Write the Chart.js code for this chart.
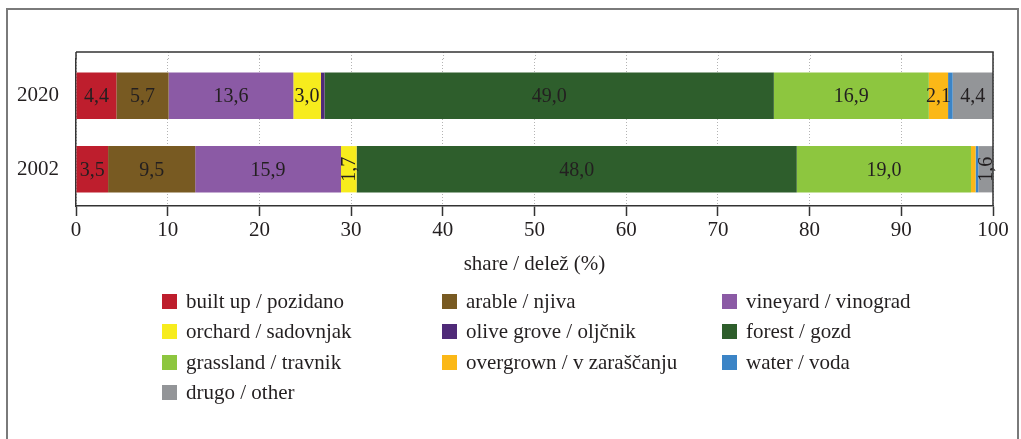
<!DOCTYPE html>
<html>
<head>
<meta charset="utf-8">
<script src="https://cdn.jsdelivr.net/npm/chart.js@4.4.0/dist/chart.umd.min.js"></script>
<style>
    html, body { margin: 0; padding: 0; background: #fff; }
    #wrap { width: 1021px; height: 439px; }
</style>
</head>
<body>
<div id="wrap"><canvas id="myChart" width="1021" height="439"></canvas></div>
<script>
// kategorije (leta)
var years = ["2020", "2002"];

// deleži rabe tal (%)
var builtUp    = [4.4, 3.5];
var arable     = [5.7, 9.5];
var vineyard   = [13.6, 15.9];
var orchard    = [3.0, 1.7];
var oliveGrove = [0.4, 0.0];
var forest     = [49.0, 48.0];
var grassland  = [16.9, 19.0];
var overgrown  = [2.1, 0.5];
var water      = [0.5, 0.3];
var other      = [4.4, 1.6];

var xTicks = [0, 10, 20, 30, 40, 50, 60, 70, 80, 90, 100];

var seriesNames = [
    "built up / pozidano", "arable / njiva", "vineyard / vinograd",
    "orchard / sadovnjak", "olive grove / oljčnik", "forest / gozd",
    "grassland / travnik", "overgrown / v zaraščanju", "water / voda",
    "drugo / other"
];
var seriesData = [builtUp, arable, vineyard, orchard, oliveGrove, forest, grassland, overgrown, water, other];
var seriesColors = ["#be1e2d", "#785a22", "#8b5aa5", "#f7ec1d", "#4f2a78", "#2e5e2c",
                    "#8dc63f", "#fbb817", "#3b84c6", "#939598"];

var FONT = "'Liberation Serif', 'DejaVu Serif', serif";
var TEXT = "#231f20";
var GRID = "#b4b4b4";

var framePlugin = {
    id: "frame",
    beforeDraw: function(chart) {
        var ctx = chart.ctx;
        ctx.save();
        ctx.strokeStyle = "#7a7a7a";
        ctx.lineWidth = 2;
        ctx.strokeRect(7, 9, 1011, 450);
        ctx.restore();
    },
    beforeDatasetsDraw: function(chart) {
        // pikčasta mreža nad območjem grafa do okvirja
        var ctx = chart.ctx, xs = chart.scales.x, top = chart.chartArea.top;
        ctx.save();
        ctx.strokeStyle = GRID;
        ctx.lineWidth = 1;
        ctx.setLineDash([1, 2]);
        xTicks.forEach(function(t) {
            var px = Math.round(xs.getPixelForValue(t)) + 0.5;
            ctx.beginPath();
            ctx.moveTo(px, 52);
            ctx.lineTo(px, top);
            ctx.stroke();
        });
        ctx.restore();
    },
    afterDraw: function(chart) {
        var ctx = chart.ctx, a = chart.chartArea;
        ctx.save();
        ctx.strokeStyle = "#333";
        ctx.lineWidth = 1.5;
        ctx.beginPath();
        ctx.moveTo(a.left, 52);
        ctx.lineTo(a.right, 52);
        ctx.lineTo(a.right, a.bottom);
        ctx.moveTo(a.left, 52);
        ctx.lineTo(a.left, a.top);
        ctx.stroke();
        ctx.restore();
    }
};

var barLabels = {
    id: "barLabels",
    afterDatasetsDraw: function(chart) {
        var ctx = chart.ctx;
        ctx.save();
        ctx.font = "20px " + FONT;
        ctx.fillStyle = TEXT;
        ctx.textAlign = "center";
        ctx.textBaseline = "middle";
        chart.data.datasets.forEach(function(ds, i) {
            var meta = chart.getDatasetMeta(i);
            meta.data.forEach(function(bar, j) {
                var v = ds.data[j];
                if (v < 1) return;
                var txt = v.toFixed(1).replace(".", ",");
                var p = bar.getProps(["x", "y", "base"], true);
                var cx = (p.x + p.base) / 2;
                if (v < 2) {
                    ctx.save();
                    ctx.translate(cx, p.y);
                    ctx.rotate(-Math.PI / 2);
                    ctx.fillText(txt, 0, 1);
                    ctx.restore();
                } else {
                    ctx.fillText(txt, cx, p.y + 1);
                }
            });
        });
        ctx.restore();
    }
};

var legendPlugin = {
    id: "gridLegend",
    afterDraw: function(chart) {
        var ctx = chart.ctx;
        var cols = [162, 442, 722];
        var rows = [301, 331, 362, 392];
        ctx.save();
        ctx.font = "21px " + FONT;
        ctx.textAlign = "left";
        ctx.textBaseline = "middle";
        chart.data.datasets.forEach(function(ds, i) {
            var x = cols[i % 3], y = rows[Math.floor(i / 3)];
            ctx.fillStyle = ds.backgroundColor;
            ctx.fillRect(x, y - 7, 15, 15);
            ctx.fillStyle = TEXT;
            ctx.fillText(ds.label, x + 24, y + 1);
        });
        ctx.restore();
    }
};

var ctx = document.getElementById("myChart").getContext("2d");
new Chart(ctx, {
    type: "bar",
    data: {
        labels: years,
        datasets: seriesNames.map(function(name, i) {
            return {
                label: name,
                data: seriesData[i],
                backgroundColor: seriesColors[i],
                borderWidth: 0,
                categoryPercentage: 1.0,
                barPercentage: 0.63
            };
        })
    },
    options: {
        indexAxis: "y",
        responsive: false,
        animation: false,
        layout: { padding: { top: 59, right: 28, bottom: 158, left: 0 } },
        plugins: {
            legend: { display: false },
            tooltip: { enabled: false }
        },
        scales: {
            x: {
                stacked: true,
                min: 0,
                max: 100,
                afterBuildTicks: function(scale) {
                    scale.ticks = xTicks.map(function(v) { return { value: v }; });
                },
                afterFit: function(scale) { scale.height = 75; },
                grid: {
                    color: GRID,
                    lineWidth: 1,
                    drawTicks: true,
                    tickLength: 10,
                    tickColor: "#333",
                    tickWidth: 1.5,
                    tickBorderDash: []
                },
                border: { display: true, color: "#333", width: 1.5, dash: [1, 2] },
                ticks: {
                    color: TEXT,
                    padding: 2,
                    font: { family: FONT, size: 21 }
                },
                title: {
                    display: true,
                    text: "share / delež (%)",
                    color: TEXT,
                    font: { family: FONT, size: 21 },
                    padding: { top: 0, bottom: 4 }
                }
            },
            y: {
                stacked: true,
                afterFit: function(scale) { scale.width = 76; },
                grid: { display: false },
                border: { display: true, color: "#333", width: 1.5 },
                ticks: {
                    color: TEXT,
                    padding: 9,
                    font: { family: FONT, size: 21 }
                }
            }
        }
    },
    plugins: [framePlugin, barLabels, legendPlugin]
});
</script>
</body>
</html>
